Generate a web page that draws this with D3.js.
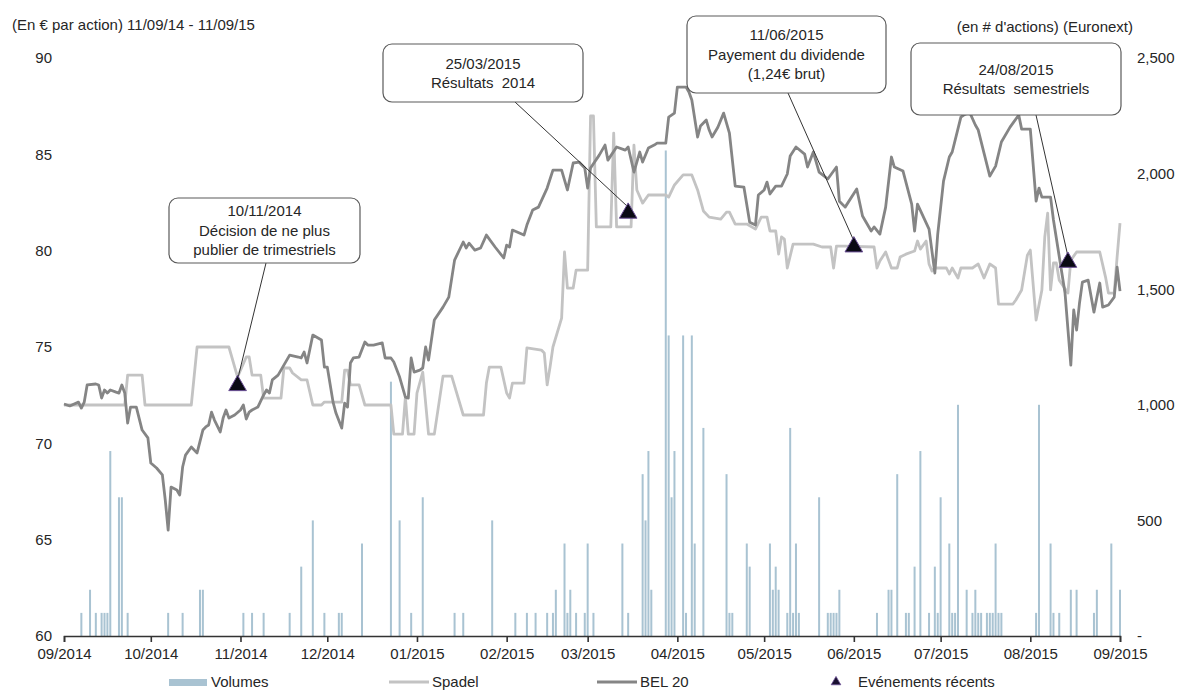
<!DOCTYPE html>
<html><head><meta charset="utf-8">
<script src="https://cdn.jsdelivr.net/npm/d3@7"></script>
<style>
body{margin:0;background:#fff}
svg{font-family:"Liberation Sans",Arial,sans-serif;display:block}
</style>
</head><body>
<svg id="c" width="1178" height="691"></svg>
<script>
// ---------- DATA ----------
const startDate = "2014-09-11";   // 11/09/14, day offsets below count from here
const tickLabels = ["09/2014","10/2014","11/2014","12/2014","01/2015","02/2015","03/2015","04/2015","05/2015","06/2015","07/2015","08/2015","09/2015"];
const leftTicks = [60,65,70,75,80,85,90];
const rightTicks = [0,500,1000,1500,2000,2500];

const spadelDays = [0,21,22,27,28,44,46,57,60,63,64,65,68,69,75,76,78,79,82,84,86,89,90,96,97,98,99,102,104,113,114,117,118,119,121,122,124,126,128,131,134,138,145,146,147,151,153,154,155,159,160,165,166,167,168,169,172,173,174,176,177,181,182,183,184,189,190,191,196,197,198,200,202,208,209,211,214,217,219,221,223,227,229,230,232,236,239,241,243,244,246,247,248,249,250,252,259,262,265,266,267,270,280,281,282,284,286,288,289,291,294,295,296,298,299,300,301,305,306,307,309,310,314,316,318,320,322,323,328,329,331,333,334,336,338,339,340,341,342,343,344,347,348,350,358,360,361,363,364,365];
const spadelValues = [71.99,71.99,73.54,73.54,71.99,71.99,75.00,75.00,73.44,74.48,74.48,73.54,73.54,72.35,72.35,73.91,73.91,73.65,73.29,73.29,71.99,71.99,72.14,72.14,73.80,73.80,73.03,73.03,71.99,71.99,70.48,70.48,72.40,70.48,70.48,72.61,73.70,70.48,70.48,73.49,73.49,71.47,71.47,73.13,73.96,73.96,72.61,72.35,73.13,73.13,74.95,74.84,74.69,73.03,73.96,75.00,76.50,79.93,78.06,78.06,78.99,78.99,86.99,86.99,81.23,81.23,86.10,81.23,81.23,85.48,83.15,82.47,82.89,82.89,82.78,83.41,83.93,83.93,83.15,82.06,81.74,81.64,82.00,82.00,81.38,81.38,81.12,81.74,81.74,81.02,81.02,79.82,80.71,80.60,79.10,80.34,80.34,80.19,80.19,79.10,80.24,80.24,80.19,79.10,79.46,79.93,79.10,79.10,79.67,79.82,79.98,80.50,80.08,80.50,79.31,78.94,79.10,79.10,78.79,79.10,78.58,79.10,79.10,79.31,78.58,79.31,79.10,77.23,77.23,77.44,77.96,79.77,80.03,76.40,77.96,80.71,81.95,77.96,79.36,79.36,78.47,77.80,79.51,79.93,79.93,78.63,77.80,77.80,79.67,81.43];

const belDays = [0,2,5,6,7,8,11,12,13,14,15,16,18,19,20,21,22,23,25,27,29,30,32,34,35,36,37,39,40,41,42,44,45,46,48,49,50,51,52,54,55,56,57,59,61,62,63,64,65,67,69,70,71,72,74,76,78,81,82,83,84,86,89,90,91,93,94,96,97,98,99,100,102,104,105,107,110,111,113,114,116,118,119,120,121,123,124,125,126,128,131,133,135,138,139,140,142,144,146,149,152,153,154,155,159,160,162,164,167,169,172,174,176,178,180,181,182,185,187,188,191,194,195,197,199,200,202,204,205,208,209,211,212,215,216,217,219,220,222,223,224,226,228,230,232,235,237,239,240,242,243,244,246,248,250,251,253,256,257,259,261,264,267,268,270,274,276,279,280,282,284,286,287,290,293,294,295,299,301,302,304,306,307,310,311,313,315,316,320,322,324,327,330,331,334,336,337,338,341,342,346,348,349,350,351,352,354,356,358,359,361,363,364,365];
const belValues = [72.04,71.94,72.14,71.83,72.14,73.03,73.08,73.03,72.35,72.77,72.61,72.77,72.66,72.61,73.03,72.61,71.05,71.88,71.88,70.69,70.28,68.98,68.72,68.36,67.06,65.50,67.73,67.58,67.32,68.77,69.39,69.81,69.65,69.50,70.69,70.85,70.95,71.62,71.21,70.59,71.31,71.73,71.31,71.47,71.73,71.99,71.26,71.62,71.73,71.88,72.51,72.77,72.61,73.29,73.54,74.06,74.58,74.48,74.43,74.74,74.17,75.62,75.36,73.96,73.96,72.14,71.57,70.79,72.09,71.88,74.17,74.43,74.48,75.26,75.10,75.10,75.21,74.43,74.43,74.22,73.44,72.40,72.35,74.43,73.70,73.80,73.91,75.00,74.32,76.40,77.07,77.59,79.51,80.45,80.14,80.39,80.03,80.14,80.81,80.19,79.62,80.29,80.19,81.07,80.81,81.33,82.11,82.26,83.25,84.18,84.18,83.15,84.55,84.60,84.29,83.25,84.29,84.96,85.48,84.70,85.38,85.22,85.38,84.08,85.12,84.60,85.33,85.48,85.58,85.58,86.93,87.14,88.49,88.49,88.23,87.82,85.90,86.47,86.78,86.26,85.90,86.41,87.14,86.10,83.35,83.30,81.48,81.33,82.89,83.15,83.56,82.94,83.35,83.35,83.98,84.91,85.38,85.01,84.34,85.12,84.08,83.72,84.34,82.57,82.26,83.20,81.80,81.02,81.23,80.86,82.26,84.86,84.34,84.13,82.42,81.02,82.42,81.12,78.84,80.86,83.61,84.86,85.12,86.93,87.04,87.19,86.52,86.26,83.87,84.39,85.64,86.41,87.04,86.31,86.31,82.57,83.25,82.78,82.78,81.59,77.80,74.06,76.92,75.88,77.28,78.37,78.47,76.81,78.32,77.07,77.18,77.59,79.15,77.90];

const volumeDays = [6,9,11,13,14,15,16,19,20,22,36,41,47,48,62,65,69,78,82,86,90,95,96,103,113,116,120,124,135,138,148,156,160,163,167,169,170,173,174,175,177,180,181,183,193,195,200,201,202,203,208,209,210,211,214,215,217,218,221,229,230,231,236,237,244,245,246,247,250,251,252,253,254,261,264,265,266,267,268,281,285,286,288,291,292,294,296,299,301,302,303,306,307,308,309,312,314,315,316,317,319,320,321,322,323,324,336,337,341,342,344,348,350,356,357,362,365];
const volumeValues = [100,200,100,100,100,100,800,600,600,100,100,100,200,200,100,100,100,100,300,500,100,100,100,400,1100,500,100,600,100,100,500,100,100,100,100,100,200,400,100,200,100,100,400,100,400,100,700,500,800,200,2100,1300,600,800,1300,100,1300,400,900,700,100,100,400,300,400,200,300,200,100,900,100,400,100,600,100,100,100,100,200,100,200,200,700,100,100,300,800,100,300,100,600,400,100,100,1000,200,100,200,100,100,100,100,100,400,100,100,100,1000,400,100,100,200,200,100,200,400,200];

const eventDates = ["2014-11-10","2015-03-25","2015-06-11","2015-08-24"];
const eventValues = [73.0, 81.95, 80.2, 79.4];
const eventTexts = [
  ["10/11/2014","Décision de ne plus","publier de trimestriels"],
  ["25/03/2015","Résultats  2014"],
  ["11/06/2015","Payement du dividende","(1,24€ brut)"],
  ["24/08/2015","Résultats  semestriels"]
];
const headerLeft = "(En € par action) 11/09/14 - 11/09/15";
const headerRight = "(en # d'actions) (Euronext)";
const legendNames = ["Volumes","Spadel","BEL 20","Evénements récents"];

// ---------- LAYOUT ----------
const W = 1178, H = 691;
const L = 64, R = 1120, T = 58, B = 636;
const colSpadel = "#c3c3c3", colBel = "#858585", colVol = "#a9c3d2";
const textCol = "#262626";
const boxes = [
  {x:169, y:198, w:191, h:65, ax:266},
  {x:383, y:44,  w:200, h:58, ax:515},
  {x:687, y:16,  w:199, h:77, ax:788},
  {x:911, y:43,  w:210, h:72, ax:1036}
];

const parse = d3.utcParse("%Y-%m-%d");
const t0 = parse(startDate);
const dayDate = d => d3.utcDay.offset(t0, d);

const x = d3.scaleUtc().domain([t0, d3.utcDay.offset(t0, 365)]).range([L, R]);
const yL = d3.scaleLinear().domain([60, 90]).range([B, T]);
const yR = d3.scaleLinear().domain([0, 2500]).range([B, T]);

const svg = d3.select("#c");
svg.append("rect").attr("width", W).attr("height", H).attr("fill", "#fff");

// headers
svg.append("text").attr("x", 12).attr("y", 30).attr("font-size", 15).attr("fill", textCol).text(headerLeft);
svg.append("text").attr("x", 1133).attr("y", 32).attr("text-anchor", "end").attr("font-size", 15).attr("fill", textCol).text(headerRight);

// volumes
const vols = volumeDays.map((d, i) => ({date: dayDate(d), v: volumeValues[i]}));
svg.append("g").selectAll("rect").data(vols).join("rect")
  .attr("x", d => x(d.date) - 1).attr("width", 2)
  .attr("y", d => yR(d.v)).attr("height", d => yR(0) - yR(d.v))
  .attr("fill", colVol);

// lines
const line = d3.line().x(d => x(d.date)).y(d => yL(d.v));
const spadel = spadelDays.map((d, i) => ({date: dayDate(d), v: spadelValues[i]}));
const bel = belDays.map((d, i) => ({date: dayDate(d), v: belValues[i]}));
svg.append("path").datum(spadel).attr("d", line).attr("fill", "none")
  .attr("stroke", colSpadel).attr("stroke-width", 2.8).attr("stroke-linejoin", "round");
svg.append("path").datum(bel).attr("d", line).attr("fill", "none")
  .attr("stroke", colBel).attr("stroke-width", 2.8).attr("stroke-linejoin", "round");

// axes
const tickDates = tickLabels.map((s, i) => d3.utcMonth.offset(t0, i));
const xAxis = svg.append("g").attr("transform", `translate(0,${B})`)
  .call(d3.axisBottom(x).tickValues(tickDates).tickFormat((d, i) => tickLabels[i]).tickSizeOuter(0).tickSize(6).tickPadding(6));
xAxis.select(".domain").attr("stroke", "#333").attr("stroke-width", 1.6);
xAxis.selectAll(".tick line").attr("stroke", "#333").attr("stroke-width", 1.6);
xAxis.selectAll("text").attr("font-size", 15).attr("fill", textCol).attr("font-family", "Liberation Sans, Arial, sans-serif");

const yAxisL = svg.append("g").attr("transform", `translate(${L},0)`)
  .call(d3.axisLeft(yL).tickValues(leftTicks).tickSize(0).tickPadding(12));
yAxisL.select(".domain").remove();
yAxisL.selectAll("text").attr("font-size", 15).attr("fill", textCol).attr("font-family", "Liberation Sans, Arial, sans-serif");

const yAxisR = svg.append("g").attr("transform", `translate(${R},0)`)
  .call(d3.axisRight(yR).tickValues(rightTicks).tickSize(0).tickPadding(17)
    .tickFormat(d => d === 0 ? "-" : d3.format(",")(d)));
yAxisR.select(".domain").remove();
yAxisR.selectAll("text").attr("font-size", 15).attr("fill", textCol).attr("font-family", "Liberation Sans, Arial, sans-serif");

// events: callouts + triangles
const events = eventDates.map((s, i) => ({date: parse(s), v: eventValues[i], lines: eventTexts[i], box: boxes[i]}));
const ann = svg.append("g");
events.forEach(e => {
  const ex = x(e.date), ey = yL(e.v);
  const b = e.box;
  ann.append("line").attr("x1", b.ax).attr("y1", b.y + b.h).attr("x2", ex).attr("y2", ey - 6)
    .attr("stroke", "#333").attr("stroke-width", 1);
  ann.append("rect").attr("x", b.x).attr("y", b.y).attr("width", b.w).attr("height", b.h)
    .attr("rx", 9).attr("fill", "#fff").attr("stroke", "#5a5a5a").attr("stroke-width", 1.2);
  const n = e.lines.length, lh = 19.5;
  const cy = b.y + b.h / 2 - (n - 1) * lh / 2;
  e.lines.forEach((t, j) => {
    ann.append("text").attr("x", b.x + b.w / 2).attr("y", cy + j * lh).attr("dy", "0.35em")
      .attr("text-anchor", "middle").attr("font-size", 15).attr("fill", textCol)
      .style("white-space", "pre").attr("xml:space", "preserve").text(t);
  });
});
svg.append("g").selectAll("path").data(events).join("path")
  .attr("d", d3.symbol(d3.symbolTriangle, 135))
  .attr("transform", d => `translate(${x(d.date)},${yL(d.v)})`)
  .attr("fill", "#0a0a14").attr("stroke", "#6b4f96").attr("stroke-width", 1);

// legend
const lg = svg.append("g").attr("font-size", 15).attr("fill", textCol);
const ly = 682;
lg.append("rect").attr("x", 169).attr("y", ly - 3).attr("width", 38).attr("height", 7).attr("fill", colVol);
lg.append("text").attr("x", 211).attr("y", ly).attr("dy", "0.35em").text(legendNames[0]);
lg.append("line").attr("x1", 389).attr("x2", 429).attr("y1", ly).attr("y2", ly).attr("stroke", colSpadel).attr("stroke-width", 2.8);
lg.append("text").attr("x", 432).attr("y", ly).attr("dy", "0.35em").text(legendNames[1]);
lg.append("line").attr("x1", 597).attr("x2", 637).attr("y1", ly).attr("y2", ly).attr("stroke", colBel).attr("stroke-width", 2.8);
lg.append("text").attr("x", 640).attr("y", ly).attr("dy", "0.35em").text(legendNames[2]);
lg.append("path").attr("d", d3.symbol(d3.symbolTriangle, 40)).attr("transform", `translate(836,${ly})`)
  .attr("fill", "#1a1030").attr("stroke", "#6b4f96").attr("stroke-width", 0.8);
lg.append("text").attr("x", 858).attr("y", ly).attr("dy", "0.35em").text(legendNames[3]);
</script>
</body></html>
